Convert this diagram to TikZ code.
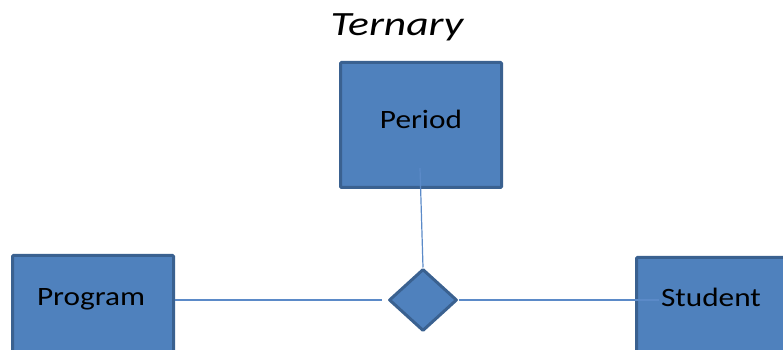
\documentclass[tikz,border=0pt]{standalone}
\usepackage{fontspec}
\setmainfont{Carlito}
\usetikzlibrary{shapes.geometric}
\definecolor{boxfill}{HTML}{4F81BD}
\definecolor{boxedge}{HTML}{3A6190}
\definecolor{linkblue}{HTML}{5B8AC8}
\tikzset{
  entity/.style={rectangle, draw=boxedge, fill=boxfill, line width=3pt,
    minimum width=161pt, minimum height=125pt, inner sep=0pt, rounded corners=1pt},
  relation/.style={diamond, draw=boxedge, fill=boxfill, line width=3pt,
    line join=round, minimum width=68pt, minimum height=62pt, inner sep=0pt},
  lbl/.style={anchor=base, inner sep=0pt, font=\fontsize{26.5}{30}\selectfont},
  link/.style={draw=linkblue, line width=1.2pt}
}
\begin{document}
\begin{tikzpicture}[x=1pt,y=1pt]
\useasboundingbox (0,0) rectangle (783,350);
\clip (0,0) rectangle (783,350);
% title
\node[anchor=base, inner sep=0pt] (title) at (397,314)
  {\scalebox{1.28}[1]{\fontsize{34}{38}\selectfont\itshape Ternary}};
% entities
\node[entity] (period) at (421,225) {};
\node[entity] (program) at (93,32) {};
\node[entity] (student) at (717,30) {};
% relationship
\node[relation] (rel) at (423,50) {};
% connectors
\coordinate (pin) at (420,182);
\coordinate (sin) at (659,50);
\draw[link] (pin) -- (rel.north);
\draw[link] (program.east |- 0,50) -- ([xshift=-6pt]rel.west);
\draw[link] (rel.east) -- (sin);
% labels
\node[lbl] (ptext) at (421,221) {\scalebox{1.18}[1]{Period}};
\node[lbl] (gtext) at (91,44) {\scalebox{1.18}[1]{Program}};
\node[lbl] (stext) at (711,43) {\scalebox{1.18}[1]{Student}};
\end{tikzpicture}
\end{document}
